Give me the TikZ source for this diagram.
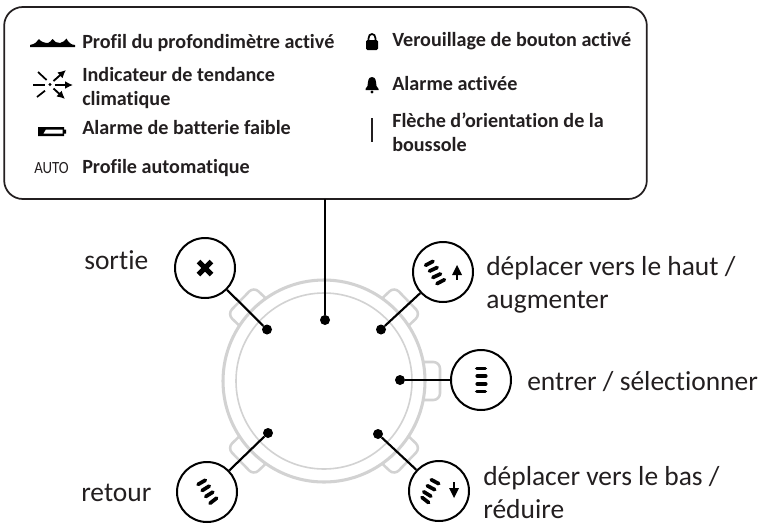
\documentclass[tikz,border=0pt]{standalone}
\usepackage{fontspec}
\usepackage{graphicx}
\usetikzlibrary{arrows.meta}
\setmainfont[Ligatures={ResetAll,NoCommon}]{Carlito}
\definecolor{ink}{HTML}{231F20}
\definecolor{ring}{HTML}{D2D2D2}
\tikzset{
  x=0.75pt,y=-0.75pt,
  legendtext/.style={anchor=base west,inner sep=0pt,text=ink,font=\bfseries\fontsize{15.1}{18}\selectfont,align=left},
  bigtext/.style={anchor=base west,inner sep=0pt,text=ink,font=\fontsize{20.6}{24}\selectfont},
  button/.style={circle,draw=black,line width=1.5pt,fill=white,minimum size=45pt,inner sep=0pt},
  pin/.style={circle,fill=black,minimum size=7.5pt,inner sep=0pt},
  wire/.style={draw=black,line width=1.6pt},
  stripe/.style={line width=2.8pt,line cap=round,black},
  lug/.style={draw=ring,line width=1.9pt,rounded corners=5pt,fill=white},
  icon/.style={fill=black,draw=none},
  trend/.style={black,line width=1.4pt,-{Latex[length=6pt,width=6pt]}},
}
\newcommand{\lugat}[1]{\begin{scope}[shift={(324,381)},rotate=#1]
  \draw[lug] (90,-19) rectangle (116,19);
\end{scope}}
\newcommand{\stripeat}[3]{\draw[stripe] (#1,#2) ++(#3:4.2) -- ++(#3+180:8.4);}
\begin{document}
\begin{tikzpicture}
\useasboundingbox (0,0) rectangle (764,529);
% watch
\lugat{0}\lugat{44}\lugat{136}\lugat{-44}\lugat{-136}
\draw[draw=ring,line width=2.3pt,fill=white] (324,381) circle[radius=101];
\draw[draw=ring,line width=1.2pt] (324,381) circle[radius=88];
% legend box
\node[draw=ink,line width=1.3pt,rounded corners=14pt,fill=white,minimum width=482pt,minimum height=144pt,inner sep=0pt] (legend) at (325.5,103) {};
% pins
\node[pin] (pc) at (325,320) {};
\node[pin] (px) at (267,329.5) {};
\node[pin] (pu) at (381,329.5) {};
\node[pin] (pe) at (400,380) {};
\node[pin] (pb) at (268,433) {};
\node[pin] (pd) at (378,434) {};
% buttons
\node[button] (bx) at (205,268) {};
\node[button] (bu) at (443,272) {};
\node[button] (be) at (481,380) {};
\node[button] (bb) at (207,492) {};
\node[button] (bd) at (439,491) {};
% connectors
\coordinate (legendfoot) at (325,199);
\draw[wire] (legendfoot) -- (pc);
\draw[wire] (px) -- (bx);
\draw[wire] (pu) -- (bu);
\draw[wire] (pe) -- (be);
\draw[wire] (pb) -- (bb);
\draw[wire] (pd) -- (bd);
% button icons
\draw[line width=3.8pt,black] (198.5,261.5) -- (211.5,274.5) (198.5,274.5) -- (211.5,261.5);
\stripeat{429.3}{263.3}{-28}\stripeat{433.3}{269.3}{-25}\stripeat{436.7}{275.7}{-25}\stripeat{440.7}{281.7}{-28}
\stripeat{481}{368.5}{0}\stripeat{481.5}{376}{0}\stripeat{481.5}{384}{0}\stripeat{481}{391.5}{0}
\stripeat{201.7}{482.3}{-30}\stripeat{205.7}{488.3}{-32}\stripeat{209.3}{494.3}{-32}\stripeat{213.3}{500.7}{-38}
\stripeat{435}{481.7}{28}\stripeat{431}{487.7}{28}\stripeat{427.3}{494}{32}\stripeat{425.3}{500}{38}
\draw[black,line width=2pt] (457,271) -- (457,280);
\fill[black] (457,265) -- (462,275) -- (452,275) -- cycle;
\draw[black,line width=2pt] (454,482) -- (454,491);
\fill[black] (454,498) -- (459,488) -- (449,488) -- cycle;
% legend icons
\fill[icon] (30,47) -- (30,45) .. controls (35,44) and (37,42) .. (39,39) .. controls (41,42) and (45,43) .. (48,43) .. controls (50,42) and (51,41) .. (52.5,39) .. controls (54,42) and (57,43) .. (60,43) .. controls (63,42) and (65,41) .. (66.5,38.5) .. controls (68,42) and (71,45) .. (75,45) -- (75,47) -- cycle;
\begin{scope}[line width=1.3pt,black]
\draw (38,72) -- (46.6,80);
\draw (33,85) -- (45,85);
\draw (37,97) -- (45,90.7);
\end{scope}
\fill[black] (50,84.5) circle[radius=1.7];
\draw[trend] (53.5,81) -- (66,70);
\draw[trend] (54.5,85) -- (73,85);
\draw[trend] (53.5,88.5) -- (65,99);
\fill[icon] (38,127) rectangle (64,136) (64,129.5) rectangle (66,133.5);
\fill[white] (46,129.5) -- (62.5,129.5) -- (62.5,133.5) -- (43.5,133.5) -- cycle;
\fill[icon,rounded corners=1pt] (366,40) rectangle (378,50);
\draw[black,line width=1.3pt] (368.5,41) -- (368.5,38.5) .. controls (368.5,32.5) and (375.5,32.5) .. (375.5,38.5) -- (375.5,41);
\fill[icon] (365.5,89) .. controls (368,87) and (367.5,85) .. (368,82) .. controls (368.5,78) and (370,77) .. (372,77) .. controls (374,77) and (375.5,78) .. (376,82) .. controls (376.5,85) and (376,87) .. (378.5,89) -- (378.5,90) -- (365.5,90) -- cycle;
\fill[icon] (372,92) circle[radius=1.6];
\draw[ink,line width=0.9pt] (372,118) -- (372,142);
% legend text
\node[legendtext] (t1) at (82,48) {Profil du profondimètre activé};
\node[legendtext] (t2) at (82,81) {Indicateur de tendance};
\node[legendtext] (t2b) at (82,105) {climatique};
\node[legendtext] (t3) at (82,134) {Alarme de batterie faible};
\node[legendtext] (t4) at (82,173) {Profile automatique};
\node[anchor=base west,inner sep=0pt,text=ink,font=\fontsize{12.8}{15}\selectfont] (t4a) at (34,173) {\scalebox{0.87}[1]{AUTO}};
\node[legendtext] (t5) at (392,46) {Verouillage de bouton activé};
\node[legendtext] (t6) at (392,90) {Alarme activée};
\node[legendtext] (t7) at (392,127) {Flèche d'orientation de la};
\node[legendtext] (t7b) at (392,151) {boussole};
% labels
\node[bigtext] (l1) at (84,269) {sortie};
\node[bigtext] (l2) at (81,501) {retour};
\node[bigtext] (l3) at (486,275) {déplacer vers le haut /};
\node[bigtext] (l3b) at (486,308) {augmenter};
\node[bigtext] (l4) at (527,390) {entrer / sélectionner};
\node[bigtext] (l5) at (483,485) {déplacer vers le bas /};
\node[bigtext] (l5b) at (483,518) {réduire};
\end{tikzpicture}
\end{document}
